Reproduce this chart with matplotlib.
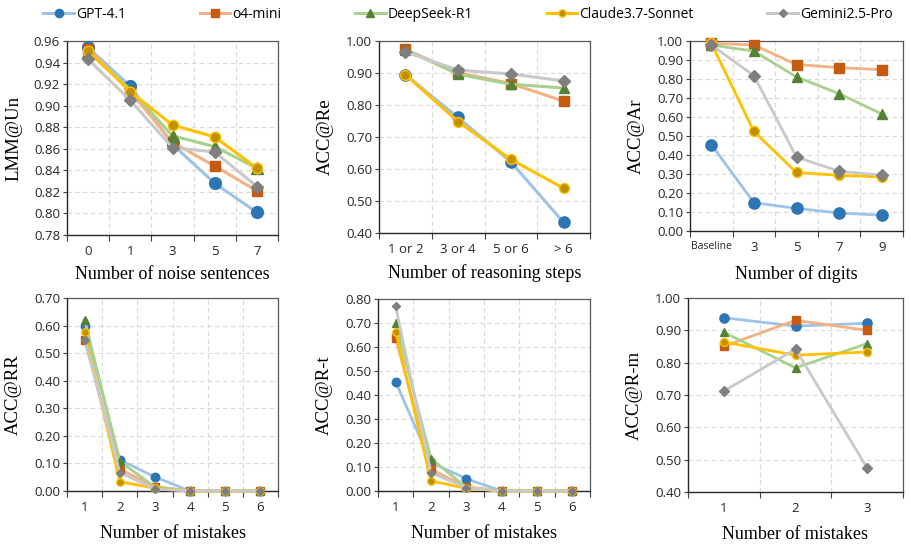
import matplotlib
matplotlib.use("Agg")
import matplotlib.pyplot as plt
from matplotlib.ticker import MultipleLocator, FixedLocator, FormatStrFormatter, NullFormatter

# Data
models = ["GPT-4.1", "o4-mini", "DeepSeek-R1", "Claude3.7-Sonnet", "Gemini2.5-Pro"]

noise_x = ["0", "1", "3", "5", "7"]
un_gpt = [0.954, 0.918, 0.864, 0.828, 0.801]
un_o4 = [0.953, 0.913, 0.866, 0.844, 0.821]
un_ds = [0.950, 0.915, 0.872, 0.862, 0.842]
un_claude = [0.951, 0.913, 0.882, 0.871, 0.842]
un_gemini = [0.943, 0.905, 0.861, 0.857, 0.825]

steps_x = ["1 or 2", "3 or 4", "5 or 6", "> 6"]
re_gpt = [0.895, 0.761, 0.622, 0.433]
re_o4 = [0.974, 0.901, 0.867, 0.812]
re_ds = [0.973, 0.896, 0.865, 0.853]
re_claude = [0.895, 0.748, 0.630, 0.540]
re_gemini = [0.966, 0.909, 0.897, 0.875]

digits_x = ["Baseline", "3", "5", "7", "9"]
ar_gpt = [0.455, 0.149, 0.119, 0.095, 0.083]
ar_o4 = [0.988, 0.979, 0.876, 0.860, 0.849]
ar_ds = [0.979, 0.947, 0.811, 0.723, 0.616]
ar_claude = [0.988, 0.524, 0.308, 0.293, 0.284]
ar_gemini = [0.979, 0.818, 0.389, 0.315, 0.293]

mistakes6_x = ["1", "2", "3", "4", "5", "6"]
rr_gpt = [0.600, 0.113, 0.051, 0.0, 0.0, 0.0]
rr_o4 = [0.549, 0.079, 0.016, 0.0, 0.0, 0.0]
rr_ds = [0.621, 0.107, 0.015, 0.0, 0.0, 0.0]
rr_claude = [0.575, 0.034, 0.010, 0.0, 0.0, 0.0]
rr_gemini = [0.549, 0.067, 0.007, 0.0, 0.0, 0.0]

rt_gpt = [0.454, 0.119, 0.051, 0.0, 0.0, 0.0]
rt_o4 = [0.636, 0.090, 0.018, 0.0, 0.0, 0.0]
rt_ds = [0.699, 0.135, 0.015, 0.0, 0.0, 0.0]
rt_claude = [0.663, 0.042, 0.011, 0.0, 0.0, 0.0]
rt_gemini = [0.769, 0.076, 0.014, 0.0, 0.0, 0.0]

mistakes3_x = ["1", "2", "3"]
rm_gpt = [0.939, 0.913, 0.922]
rm_o4 = [0.851, 0.931, 0.900]
rm_ds = [0.894, 0.784, 0.859]
rm_claude = [0.864, 0.823, 0.833]
rm_gemini = [0.712, 0.842, 0.474]

# Excel-like colours: light line, darker marker
line_colors = ["#9DC3E6", "#F4B183", "#A9D18E", "#FFC000", "#C9C9C9"]
marker_colors = ["#2E75B6", "#C55A11", "#548235", "#BF9000", "#7F7F7F"]
markers = ["o", "s", "^", "o", "D"]
base_sizes = [8.5, 7.5, 8, 7.5, 6]

SANS = "Open Sans"
SERIF = "Liberation Serif"

W, H = 911, 545
fig = plt.figure(figsize=(W / 100, H / 100), dpi=100)


def px_axes(l, t, r, b):
    return fig.add_axes([l / W, 1 - b / H, (r - l) / W, (b - t) / H])


panels = [
    # (box px, cats, series, ylim, step, ylabel, xlabel, marker scale, line width, xlabel pad)
    ((67, 41, 278, 235), noise_x, [un_gpt, un_o4, un_ds, un_claude, un_gemini],
     (0.78, 0.96), 0.02, "LMM@Un", "Number of noise sentences", 1.0, 2.2, 6),
    ((379, 41, 590, 233), steps_x, [re_gpt, re_o4, re_ds, re_claude, re_gemini],
     (0.40, 1.00), 0.10, "ACC@Re", "Number of reasoning steps", 0.95, 2.2, 6),
    ((690, 41, 903, 231), digits_x, [ar_gpt, ar_o4, ar_ds, ar_claude, ar_gemini],
     (0.00, 1.00), 0.10, "ACC@Ar", "Number of digits", 0.95, 2.0, 8),
    ((67, 298, 278, 491), mistakes6_x, [rr_gpt, rr_o4, rr_ds, rr_claude, rr_gemini],
     (0.00, 0.70), 0.10, "ACC@RR", "Number of mistakes", 0.72, 2.0, 8),
    ((378, 299, 590, 491), mistakes6_x, [rt_gpt, rt_o4, rt_ds, rt_claude, rt_gemini],
     (0.00, 0.80), 0.10, "ACC@R-t", "Number of mistakes", 0.72, 2.0, 8),
    ((688, 298, 903, 492), mistakes3_x, [rm_gpt, rm_o4, rm_ds, rm_claude, rm_gemini],
     (0.40, 1.00), 0.10, "ACC@R-m", "Number of mistakes", 0.78, 2.0, 8),
]

handles = None
for box, cats, series, ylim, step, ylabel, xlabel, mscale, lw, xpad in panels:
    ax = px_axes(*box)
    n = len(cats)
    xs = list(range(n))
    lines = []
    for i, vals in enumerate(series):
        ln, = ax.plot(xs, vals, color=line_colors[i], lw=lw, marker=markers[i],
                      ms=base_sizes[i] * mscale, markerfacecolor=marker_colors[i],
                      markeredgecolor=line_colors[i] if i == 3 else marker_colors[i],
                      markeredgewidth=1.0, label=models[i], clip_on=False, zorder=3 + i)
        lines.append(ln)
    if handles is None:
        handles = lines

    ax.set_xlim(-0.5, n - 0.5)
    ax.set_ylim(*ylim)

    # category boundaries get the tick marks and vertical grid
    ax.xaxis.set_major_locator(FixedLocator([k - 0.5 for k in range(n + 1)]))
    ax.xaxis.set_major_formatter(NullFormatter())
    ax.xaxis.set_minor_locator(FixedLocator(xs))
    ax.set_xticklabels(cats, minor=True)
    ax.tick_params(axis="x", which="major", length=4, direction="out", color="#404040")
    ax.tick_params(axis="x", which="minor", length=0, pad=7)

    ax.yaxis.set_major_locator(MultipleLocator(step))
    ax.yaxis.set_major_formatter(FormatStrFormatter("%.2f"))
    ax.tick_params(axis="y", length=3, direction="out", color="#404040", pad=2)

    for lab in ax.get_xticklabels(minor=True) + ax.get_yticklabels():
        lab.set_fontfamily(SANS)
        lab.set_fontsize(9.5)
        lab.set_color("#262626")
    if cats[0] == "Baseline":
        ax.get_xticklabels(minor=True)[0].set_fontsize(7.5)

    ax.grid(True, which="major", color="#D9D9D9", ls=(0, (4, 3)), lw=0.8)
    ax.set_axisbelow(True)

    for side in ["left", "bottom"]:
        ax.spines[side].set_color("#262626")
        ax.spines[side].set_linewidth(1.0)
    for side in ["top", "right"]:
        ax.spines[side].set_color("#595959")
        ax.spines[side].set_linewidth(0.9)

    ax.set_ylabel(ylabel, fontfamily=SERIF, fontsize=13.5)
    ax.set_xlabel(xlabel, fontfamily=SERIF, fontsize=13, labelpad=xpad)
    l, t, r, b = box
    ax.yaxis.set_label_coords(-45 / (r - l), 0.5)

fig.legend(handles=handles, loc="center", bbox_to_anchor=(468 / W, 1 - 14 / H),
           ncol=5, frameon=False, handlelength=2.2, handletextpad=0.15,
           columnspacing=5.3, markerscale=0.7, prop={"family": SANS, "size": 10})

fig.savefig("out.png", dpi=100)
